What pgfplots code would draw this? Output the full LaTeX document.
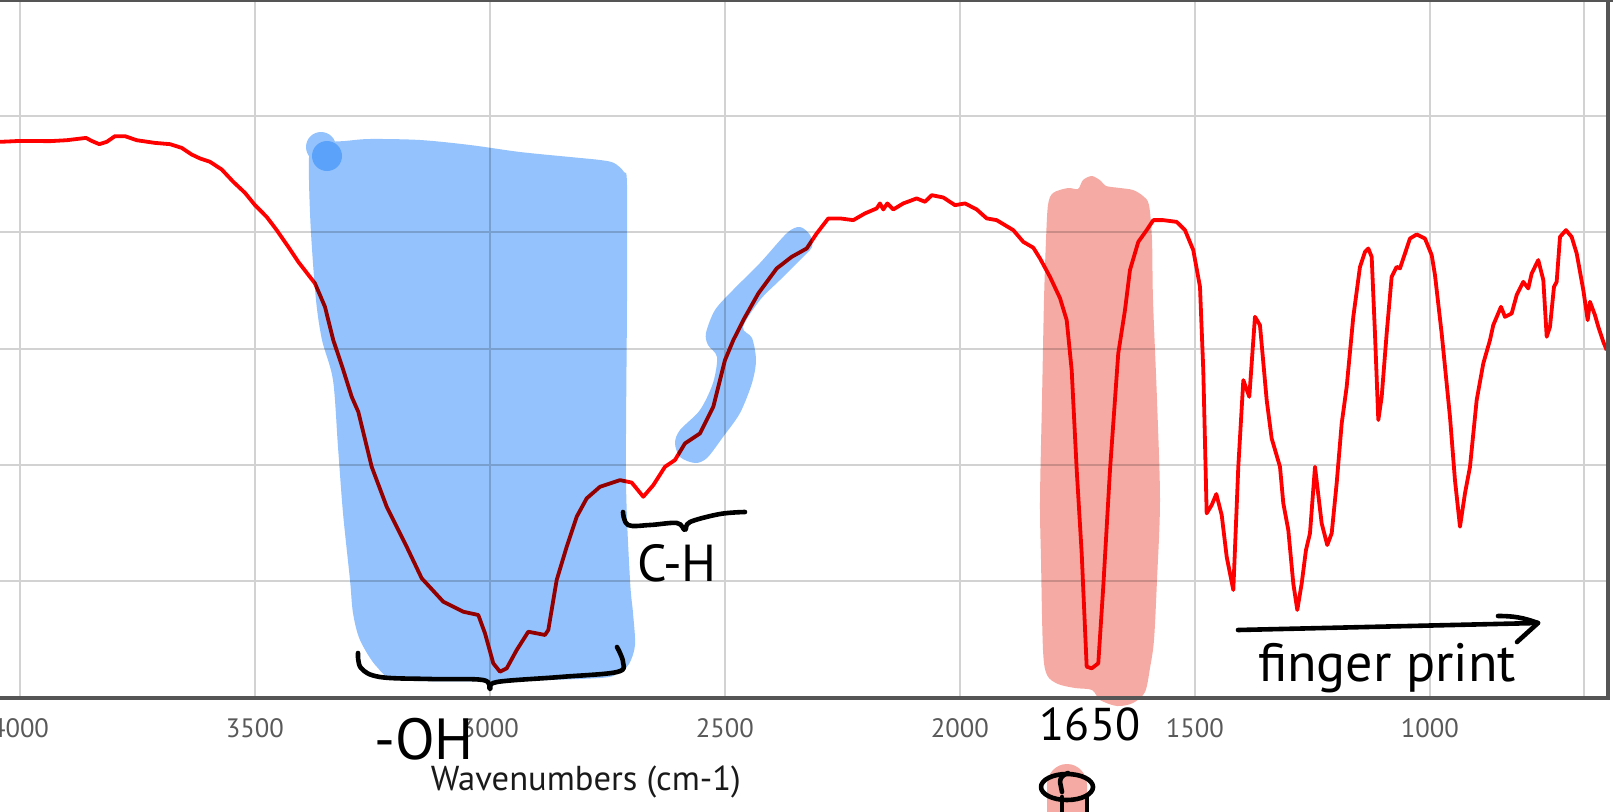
\documentclass[border=0pt]{standalone}
\usepackage{fontspec}
\setmainfont{PT Sans}
\usepackage{pgfplots}
\pgfplotsset{compat=1.18}

\definecolor{hlblue}{HTML}{94C2FC}
\definecolor{hldot}{HTML}{5AA2FA}
\definecolor{hlsalmon}{HTML}{F5ABA3}
\definecolor{gridgray}{HTML}{D2D2D2}
\definecolor{framegray}{HTML}{555555}
\definecolor{ticktext}{HTML}{595959}
\definecolor{labeltext}{HTML}{1A1A1A}

\begin{document}
\begin{tikzpicture}
\begin{axis}[
  scale only axis,
  width=804pt, height=348.5pt,
  xmin=621.2, xmax=4042.6, x dir=reverse,
  ymin=0, ymax=60,
  xtick={1000,1500,...,4000},
  extra x ticks={673}, extra x tick labels={},
  extra x tick style={grid=major},
  ytick={10,20,...,50}, yticklabels={},
  major tick length=0pt,
  grid=major,
  major grid style={line width=1pt, color=gridgray},
  axis line style={draw=none},
  /pgf/number format/assume math mode=true,
  /pgf/number format/1000 sep={},
  tick label style={font=\fontsize{13.3}{13.3}\selectfont, text=ticktext},
  xticklabel style={anchor=base, yshift=-20pt},
  xlabel={Wavenumbers (cm-1)},
  xlabel style={at={(axis description cs:0.3644,0)}, anchor=base, yshift=-46.5pt,
    font=\fontsize{17.3}{17.3}\selectfont, text=labeltext},
]
% IR spectrum, transmittance in arbitrary units (grid every 10)
\addplot[red, line width=1.9pt, line join=round] coordinates {
(4042.6,47.79) (4000,47.87) (3936.2,47.85) (3900.6,47.93) (3859.6,48.13)
(3847.4,47.87) (3831.3,47.59) (3815.5,47.79) (3797.9,48.28) (3776.6,48.28)
(3751.7,47.93) (3712.8,47.70) (3680.8,47.59) (3655.9,47.27) (3634.7,46.70)
(3617.0,46.36) (3595.7,46.07) (3570.8,45.41) (3546.2,44.35) (3521.3,43.40)
(3500,42.34) (3475.1,41.33) (3453.8,40.19) (3429.1,38.75) (3407.9,37.46)
(3372.3,35.60) (3351.1,33.59) (3333.4,30.72) (3312.1,28.14) (3294.2,25.84)
(3280.2,24.55) (3251.7,19.82) (3219.8,16.38) (3177.2,12.93) (3145.3,10.22)
(3099.3,8.20) (3056.8,7.34) (3024.9,7.06) (3010.6,5.48) (2993.0,2.90)
(2978.7,2.18) (2964.4,2.47) (2943.2,4.04) (2918.5,5.62) (2900.6,5.48)
(2883.0,5.34) (2875.9,5.77) (2858.1,10.07) (2836.8,12.93) (2815.5,15.52)
(2794.2,17.10) (2765.9,18.10) (2723.4,18.67) (2698.5,18.46) (2673.8,17.24)
(2652.5,18.24) (2627.6,19.82) (2606.4,20.40) (2585.1,21.83) (2553.2,22.69)
(2524.9,24.98) (2500,29.00) (2482.3,30.72) (2461.0,32.44) (2429.1,34.74)
(2390.0,36.89) (2358.1,37.89) (2326.2,38.61) (2304.9,39.90) (2280.2,41.20)
(2255.3,41.20) (2227.0,41.05) (2202.1,41.63) (2177.2,42.06) (2170.2,42.49)
(2163.2,41.97) (2154.6,42.49) (2141.9,41.97) (2120.6,42.49) (2092.1,42.92)
(2074.4,42.63) (2060.2,43.20) (2035.5,43.00) (2010.6,42.34) (1989.3,42.49)
(1964.4,41.97) (1943.2,41.20) (1921.9,41.05) (1886.6,40.19) (1865.3,39.18)
(1844.0,38.68) (1829.7,37.75) (1808.5,36.17) (1787.2,34.34) (1772.9,32.44)
(1762.3,28.14) (1751.6,19.54) (1741.0,12.37) (1730.4,2.61) (1719.7,2.47)
(1705.7,2.90) (1695.1,9.49) (1680.8,19.54) (1663.2,29.58) (1648.9,33.30)
(1638.3,36.75) (1620.6,39.18) (1602.7,40.19) (1588.7,41.05) (1567.4,41.05)
(1538.9,40.90) (1521.2,40.19) (1503.6,38.47) (1489.3,35.31) (1482.3,28.14)
(1475.1,15.81) (1464.4,16.52) (1454.6,17.47) (1443.1,15.66) (1432.5,12.07)
(1418.4,9.21) (1407.8,19.82) (1397.1,27.28) (1384.4,25.84) (1372.3,32.73)
(1361.7,32.01) (1347.4,25.56) (1336.8,22.26) (1319.1,19.82) (1312.0,16.67)
(1301.4,14.37) (1290.8,9.78) (1282.3,7.49) (1272.9,9.78) (1263.8,12.65)
(1255.3,14.09) (1244.6,19.82) (1230.4,14.95) (1218.5,13.08) (1209.1,14.09)
(1198.5,18.39) (1187.8,23.55) (1177.2,26.70) (1163.1,32.73) (1148.9,37.03)
(1138.2,38.32) (1131.2,38.61) (1124.0,37.89) (1117.0,31.30) (1109.9,23.84)
(1102.7,25.84) (1092.1,31.30) (1081.5,36.17) (1070.8,37.03) (1063.8,36.89)
(1053.1,38.18) (1042.5,39.47) (1028.2,39.82) (1010.6,39.47) (996.3,38.04)
(989.3,36.32) (975.1,31.30) (957.4,24.12) (946.8,18.67) (936.1,14.66)
(925.5,17.53) (914.8,19.82) (900.6,25.56) (886.5,28.72) (872.3,30.72)
(865.3,32.01) (848.9,33.59) (840.4,32.73) (826.1,33.02) (815.5,34.60)
(801.4,35.74) (790.8,35.17) (783.6,36.46) (769.5,37.61) (758.8,35.89)
(751.6,31.01) (744.6,31.87) (736.1,35.31) (730.4,35.74) (723.3,39.61)
(710.6,40.19) (698.5,39.61) (687.8,38.18) (673.7,35.03) (664.4,32.44)
(659.5,34.02) (648.9,32.87) (641.8,31.87) (631.2,30.58) (624.0,29.86)
};
\end{axis}

% hand-drawn overlay, in pixels of the screenshot (origin top left)
\begin{scope}[x=0.5pt, y=-0.5pt, shift={(0pt,348.5pt)}]
  \begin{scope}[blend mode=multiply]
    \fill[hlblue] plot[smooth cycle, tension=0.5] coordinates {
      (310,152) (322,143) (345,141) (370,139) (420,140) (470,145) (520,152)
      (570,157) (600,160) (614,163) (624,172) (627,185) (627,300) (626,480)
      (630,580) (633,613) (635,645) (629,664) (618,673) (600,678) (500,681)
      (400,680) (377,667) (360,640) (353,613) (350,580) (343,513) (338,447)
      (333,380) (322,340) (316,300) (311,233) (309,180)}
      (321,147) circle[radius=15];
    \fill[hlblue] plot[smooth cycle, tension=0.5] coordinates {
      (675,443) (680,430) (700,410) (713,383) (717,357) (708,345) (706,333)
      (715,310) (733,290) (760,263) (787,233) (800,227) (810,235) (812,247)
      (800,260) (780,280) (760,300) (743,327) (752,338) (756,360) (752,383)
      (740,413) (723,437) (707,458) (695,463) (680,457)};
    \fill[hlsalmon] plot[smooth cycle, tension=0.5] coordinates {
      (1048,205) (1053,193) (1068,188) (1078,189) (1083,180) (1092,176)
      (1101,181) (1106,186) (1120,188) (1133,190) (1143,196) (1149,205)
      (1152,240) (1153,300) (1157,400) (1160,500) (1157,580) (1154,640)
      (1150,668) (1145,692) (1133,703) (1117,706) (1100,700) (1092,690)
      (1075,688) (1058,684) (1047,675) (1043,650) (1041,560) (1040,500)
      (1042,400) (1044,300) (1046,240)};
    \fill[hlsalmon] (1047,815) -- (1047,785) to[out=90,in=180] (1067,764)
      to[out=0,in=90] (1087,785) -- (1087,815) -- cycle;
  \end{scope}
  \fill[hldot] (327,156) circle[radius=15];

  % frame
  \draw[framegray, line width=1pt] (0,1) -- (1613,1);
  \draw[framegray, line width=1.7pt] (1608,0) -- (1608,699);
  \draw[framegray, line width=2pt] (0,697.5) -- (1610,697.5);

  % annotations
  \begin{scope}[black, line width=2.3pt, line cap=round, line join=round]
    \draw plot[smooth, tension=0.6] coordinates {
      (358,653) (361,668) (380,677) (430,679) (483,680) (490,689)
      (497,682) (560,677) (617,672) (623,662) (617,647)};
    \draw plot[smooth, tension=0.6] coordinates {
      (623,512) (628,525) (650,525) (677,523) (685,530) (690,522)
      (720,514) (745,512)};
    \draw (1238,630) -- (1538,623);
    \draw (1498,616) to[bend left=10] (1538,623) -- (1517,642);
    \draw (1067,787) ellipse[x radius=26, y radius=13];
    \draw (1068,773) to[out=200,in=90] (1060,782) -- (1062,792);
    \draw (1062,797) -- (1062,815);
    \draw (1087,797) -- (1087,815);
  \end{scope}
  \node[anchor=base, inner sep=0pt, font=\fontsize{29}{29}\selectfont] at (424,759) {-OH};
  \node[anchor=base, inner sep=0pt, font=\fontsize{26}{26}\selectfont] at (677,581) {C-H};
  \node[anchor=base, inner sep=0pt, font=\fontsize{23}{23}\selectfont] at (1090,740) {1650};
  \node[anchor=base, inner sep=0pt, font=\fontsize{27}{27}\selectfont] at (1387,681) {finger print};
\end{scope}

\pgfresetboundingbox
\useasboundingbox (0pt,-57pt) rectangle (806.5pt,348.5pt);
\end{tikzpicture}
\end{document}
